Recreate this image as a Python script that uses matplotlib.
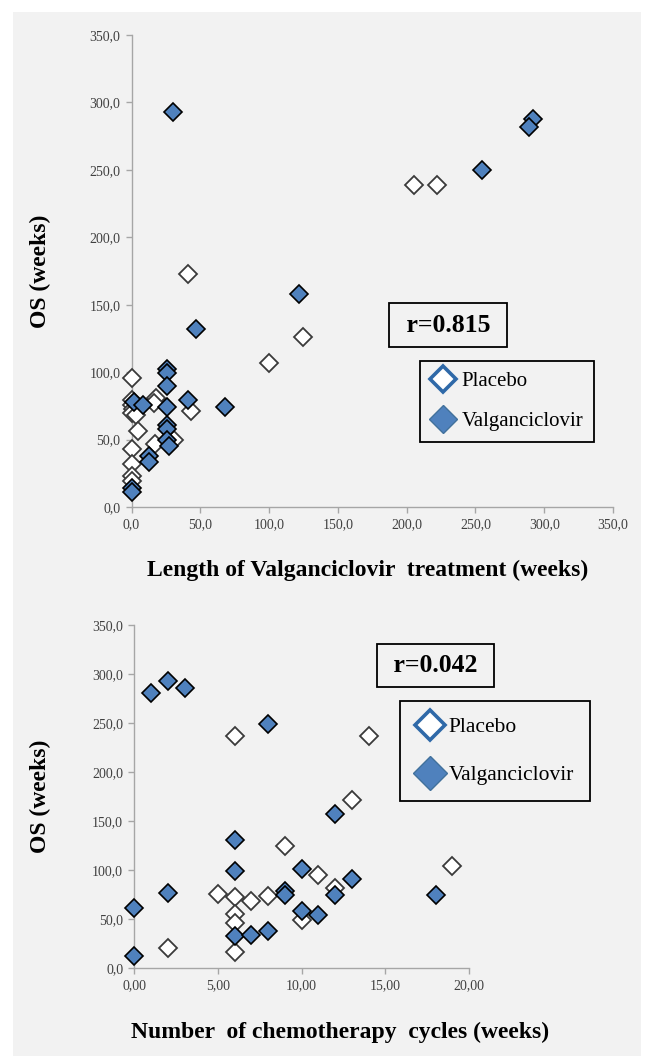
"""OS vs Valganciclovir treatment length / chemotherapy cycles, two stacked scatter panels."""
import matplotlib
matplotlib.use("Agg")
import matplotlib.pyplot as plt
from matplotlib.lines import Line2D
from matplotlib.patches import Rectangle
from matplotlib.ticker import FixedLocator, FuncFormatter

plt.rcParams["font.family"] = ["Liberation Serif", "DejaVu Serif"]

# top panel: length of Valganciclovir treatment (weeks) vs OS (weeks)
placebo_len = [205, 222, 41, 125, 100, 0, 0, 0, 1, 0, 3, 18, 16, 43, 5, 0, 0, 0, 0, 17, 31]
placebo_os = [239, 239, 173, 126, 107, 96, 79, 76, 73, 70, 68, 81, 77, 71, 56, 43, 32, 23, 19, 47, 50]
valg_len = [30, 292, 289, 255, 122, 47, 26, 26, 26, 2, 8, 26, 41, 68, 26, 26, 26, 27, 13, 13, 0, 0]
valg_os = [293, 288, 282, 250, 158, 132, 102, 99, 90, 78, 76, 74, 79, 74, 61, 58, 50, 45, 38, 33, 14, 11]

# bottom panel: number of chemotherapy cycles vs OS (weeks)
placebo_cyc = [6, 14, 13, 9, 11, 5, 6, 7, 8, 12, 10, 6, 6, 6, 2, 19]
placebo_os2 = [237, 237, 171, 124, 95, 76, 72, 68, 73, 82, 49, 55, 46, 16, 20, 104]
valg_cyc = [1, 2, 3, 8, 12, 6, 6, 10, 13, 9, 9, 12, 2, 0, 10, 11, 6, 7, 8, 0, 18]
valg_os2 = [281, 293, 286, 249, 157, 131, 99, 101, 91, 79, 74, 75, 77, 61, 58, 54, 33, 34, 38, 12, 75]

series_labels = ["Placebo", "Valganciclovir"]
r_top = "r=0.815"
r_bottom = "r=0.042"
os_ticks = [0, 50, 100, 150, 200, 250, 300, 350]
len_ticks = [0, 50, 100, 150, 200, 250, 300, 350]
cyc_ticks = [0, 5, 10, 15, 20]

BG = "#f2f2f2"
BLUE = "#4f81bd"
W, H = 648, 1056


def px(x, y):
    return x / W, 1 - y / H


def comma(fmt):
    return FuncFormatter(lambda v, pos: format(v, fmt).replace(".", ","))


def style_axes(ax, xticks, xfmt):
    ax.set_facecolor("none")
    for s in ("top", "right"):
        ax.spines[s].set_visible(False)
    for s in ("left", "bottom"):
        ax.spines[s].set_color("#a6a6a6")
        ax.spines[s].set_linewidth(1.0)
    ax.xaxis.set_major_locator(FixedLocator(xticks))
    ax.yaxis.set_major_locator(FixedLocator(os_ticks))
    ax.xaxis.set_major_formatter(comma(xfmt))
    ax.yaxis.set_major_formatter(comma(".1f"))
    ax.tick_params(direction="out", length=4, width=1, color="#a6a6a6",
                   labelsize=10, labelcolor="#404040", pad=4)


def scatter(ax, x0, y0, x1, y1):
    ax.plot(x0, y0, "D", ms=9.5, mfc="white", mec="#3a3a3a", mew=1.3,
            ls="none", clip_on=False, zorder=3)
    ax.plot(x1, y1, "D", ms=9.5, mfc=BLUE, mec="black", mew=1.2,
            ls="none", clip_on=False, zorder=4)


def add_legend(fig, x, y, fs, ms, pad, spacing):
    handles = [
        Line2D([], [], marker="D", ls="none", ms=ms - 1.5, mfc="white", mec="#2f69a8", mew=2.6),
        Line2D([], [], marker="D", ls="none", ms=ms, mfc=BLUE, mec="#41719c", mew=1),
    ]
    leg = fig.legend(handles, series_labels, loc="upper left", bbox_to_anchor=px(x, y),
                     fontsize=fs, frameon=True, fancybox=False, edgecolor="black",
                     facecolor=BG, framealpha=1, borderpad=pad, labelspacing=spacing,
                     handletextpad=0.25, handlelength=1.25, borderaxespad=0)
    leg.get_frame().set_linewidth(1.3)
    return leg


def add_r(fig, x, y, text):
    fig.text(*px(x, y), " " + text + " ", ha="center", va="center", fontsize=18.5,
             fontweight="bold",
             bbox=dict(boxstyle="square,pad=0.4", fc=BG, ec="black", lw=1.3))


fig = plt.figure(figsize=(W / 100, H / 100), dpi=100)
fig.patches.append(Rectangle((13 / W, 0), (641 - 13) / W, 1 - 12 / H,
                             transform=fig.transFigure, fc=BG, ec="none", zorder=-10))

ax1 = fig.add_axes([131.5 / W, 1 - 507 / H, 481.5 / W, 472 / H])
scatter(ax1, placebo_len, placebo_os, valg_len, valg_os)
ax1.set_xlim(0, 350)
ax1.set_ylim(0, 350)
style_axes(ax1, len_ticks, ".1f")
ax1.set_xlabel("Length of Valganciclovir  treatment (weeks)", fontsize=17, fontweight="bold")
ax1.set_ylabel("OS (weeks)", fontsize=17, fontweight="bold")
ax1.xaxis.label.set_va("center")
ax1.yaxis.label.set_va("center")
ax1.xaxis.set_label_coords(0.49, (507 - 570) / 472)
ax1.yaxis.set_label_coords((40 - 131.5) / 481.5, 0.5)

ax2 = fig.add_axes([134.3 / W, 1 - 968 / H, (469 - 134.3) / W, 343 / H])
scatter(ax2, placebo_cyc, placebo_os2, valg_cyc, valg_os2)
ax2.set_xlim(0, 20)
ax2.set_ylim(0, 350)
style_axes(ax2, cyc_ticks, ".2f")
ax2.set_xlabel("Number  of chemotherapy  cycles (weeks)", fontsize=17, fontweight="bold")
ax2.set_ylabel("OS (weeks)", fontsize=17, fontweight="bold")
ax2.xaxis.label.set_va("center")
ax2.yaxis.label.set_va("center")
ax2.xaxis.set_label_coords((340 - 134.3) / 334.7, (968 - 1032) / 343)
ax2.yaxis.set_label_coords((40 - 134.3) / 334.7, 0.5)

add_r(fig, 448, 325, r_top)
add_legend(fig, 420, 361, 15, 14.5, 0.5, 1.0)
add_r(fig, 435.5, 665.5, r_bottom)
add_legend(fig, 400, 701, 15.5, 17, 0.75, 1.3)

fig.savefig("out.png", dpi=100, facecolor="white")
